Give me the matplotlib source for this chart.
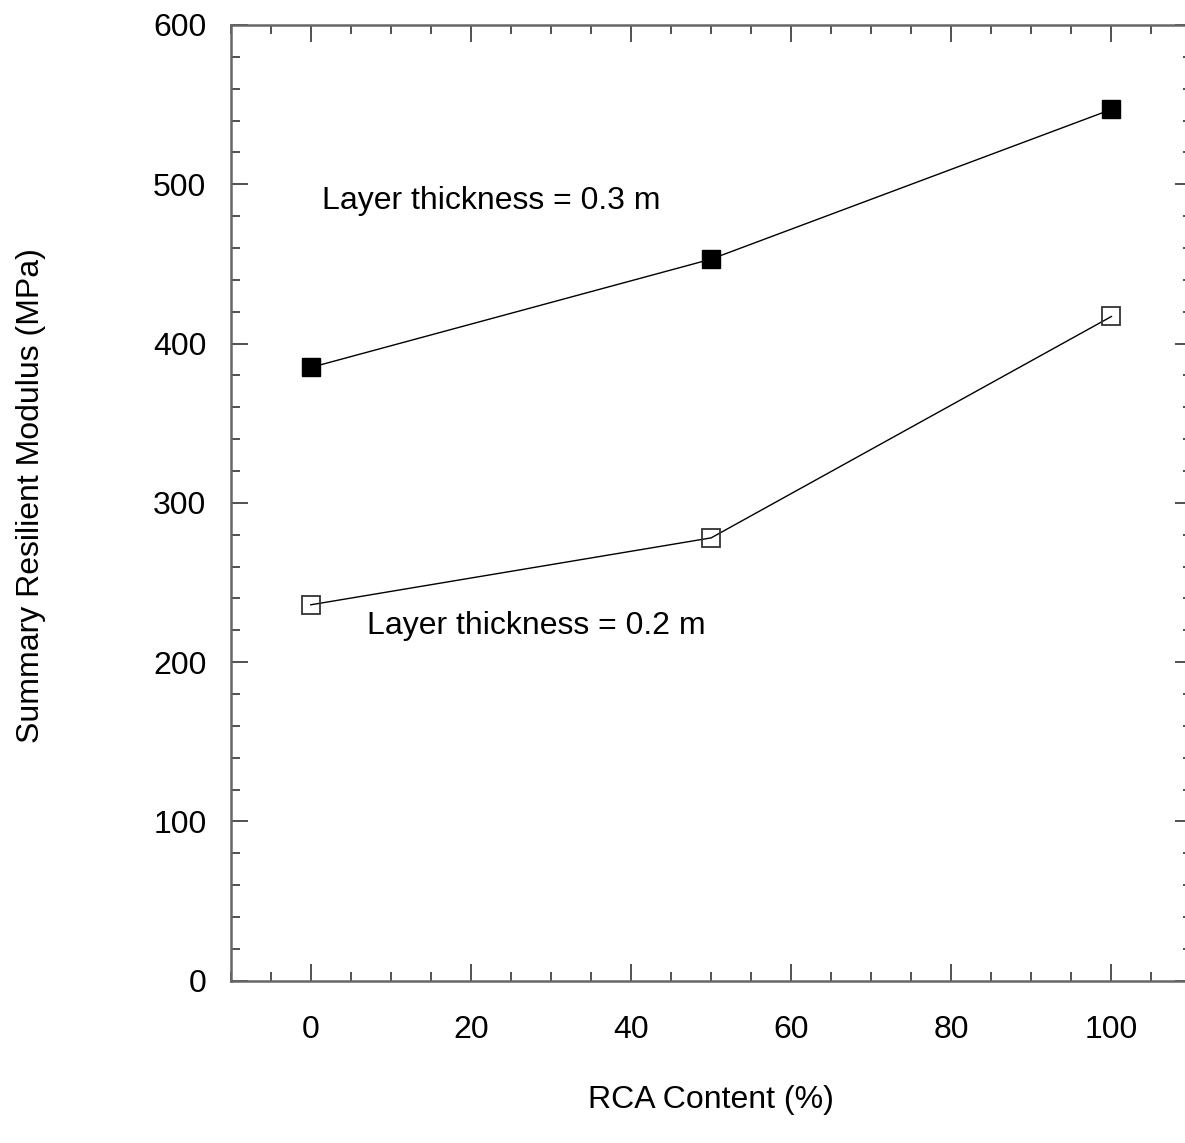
import matplotlib
matplotlib.use("Agg")
import matplotlib.pyplot as plt
from matplotlib.ticker import MultipleLocator

plt.rcParams['font.family'] = ['Liberation Sans', 'DejaVu Sans']

rca_content = [0, 50, 100]
mr_03m = [385, 453, 547]
mr_02m = [236, 278, 417]
label_03 = "Layer thickness = 0.3 m"
label_02 = "Layer thickness = 0.2 m"

W, H = 1185, 1143
fig = plt.figure(figsize=(W / 100, H / 100), dpi=100)
left, right, top, bottom = 230.7, 1191.5, 25.0, 980.7
ax = fig.add_axes([left / W, 1 - bottom / H, (right - left) / W, (bottom - top) / H])

ax.plot(rca_content, mr_03m, color='black', lw=1.0, marker='s', markersize=13.5,
        markerfacecolor='black', markeredgecolor='black', zorder=3)
ax.plot(rca_content, mr_02m, color='black', lw=1.0, marker='s', markersize=12.5,
        markerfacecolor='none', markeredgecolor='#333333', markeredgewidth=1.3, zorder=3)

ax.set_xlim(-10, 110)
ax.set_ylim(0, 600)
ax.xaxis.set_major_locator(MultipleLocator(20))
ax.xaxis.set_minor_locator(MultipleLocator(5))
ax.yaxis.set_major_locator(MultipleLocator(100))
ax.yaxis.set_minor_locator(MultipleLocator(20))
ax.set_xticks([0, 20, 40, 60, 80, 100])

for s in ax.spines.values():
    s.set_color('#666666')
    s.set_linewidth(1.8)

ax.tick_params(which='both', direction='in', top=True, right=True, color='#333333', width=1.2)
ax.tick_params(which='major', length=12, labelsize=23)
ax.tick_params(axis='x', which='major', pad=25)
ax.tick_params(axis='y', which='major', pad=17.5)
ax.tick_params(which='minor', length=6.5)

ax.text(1.4, 489.5, label_03, fontsize=23, va='center', ha='left')
ax.text(7.0, 222.7, label_02, fontsize=23, va='center', ha='left')

fig.text(711 / W, 1 - 1100 / H, "RCA Content (%)", fontsize=23, ha='center', va='center')
fig.text(31 / W, 1 - 496 / H, "Summary Resilient Modulus (MPa)", fontsize=23,
         ha='center', va='center', rotation=90)

fig.savefig("out.png", dpi=100)
